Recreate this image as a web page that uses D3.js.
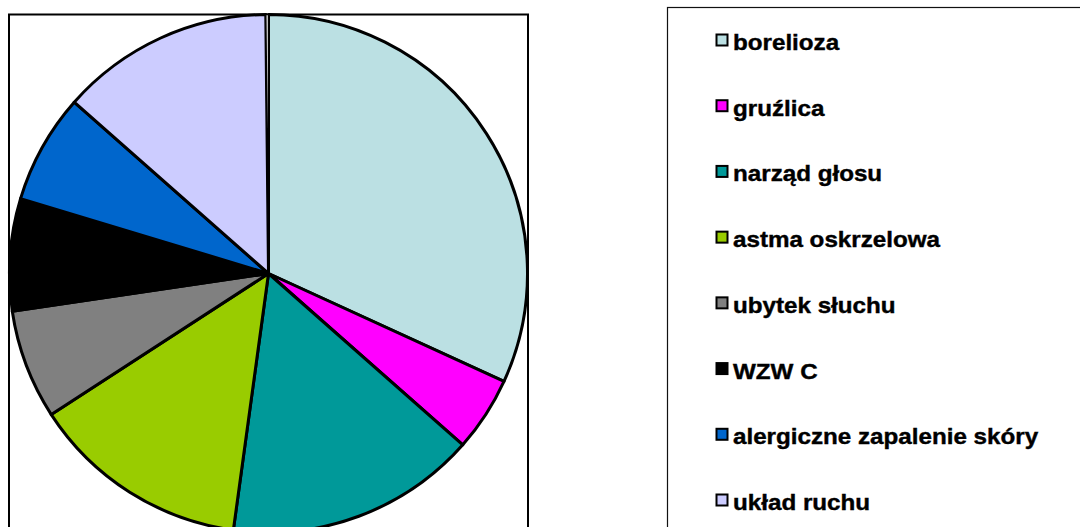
<!DOCTYPE html>
<html lang="pl">
<head>
    <meta charset="UTF-8">
    <title>Choroby zawodowe</title>
    <script src="https://d3js.org/d3.v7.min.js"></script>
    <style>
        body { margin: 0; background: #fff; }
        svg { display: block; }
    </style>
</head>
<body>
    <svg width="1080" height="527"></svg>

    <script>
    // kategorie i wartosci
    var categories = ["borelioza", "gruźlica", "narząd głosu", "astma oskrzelowa", "ubytek słuchu",
                      "WZW C", "alergiczne zapalenie skóry", "układ ruchu", "inne"]
    var values = [191, 28, 94, 82, 41, 42, 41, 80, 1]
    var colors = ["#BBE0E3", "#FF00FF", "#009999", "#99CC00", "#808080",
                  "#000000", "#0066CC", "#CCCCFF", "#FFFFFF"]

    var data = categories.map((c, i) => ({name: c, value: values[i], color: colors[i]}))

    var svg = d3.select("svg")

    // ramka obszaru wykresu
    svg.append("rect")
        .attr("x", 9).attr("y", 14.5)
        .attr("width", 519).attr("height", 560)
        .attr("fill", "none").attr("stroke", "#000").attr("stroke-width", 2)

    var pie = d3.pie().sort(null).value(d => d.value)
    var arc = d3.arc().innerRadius(0).outerRadius(259)

    var g = svg.append("g").attr("transform", "translate(268.5,273.5)")
    g.selectAll("path").data(pie(data))
        .enter().append("path")
        .attr("d", arc)
        .attr("fill", d => d.data.color)
        .attr("stroke", "#000")
        .attr("stroke-width", d => d.data.value < 5 ? 1.5 : 3)
        .attr("stroke-linejoin", "round")

    // legenda (pozycja "inne" wypada poza obrazkiem)
    svg.append("rect")
        .attr("x", 667.5).attr("y", 7.5)
        .attr("width", 430).attr("height", 600)
        .attr("fill", "none").attr("stroke", "#111").attr("stroke-width", 1.2)

    var legData = data.slice(0, 8)
    var ly = d3.scalePoint().domain(legData.map(d => d.name)).range([50, 510])

    var item = svg.selectAll(".leg").data(legData)
        .enter().append("g")
        .attr("class", "leg")
        .attr("transform", d => "translate(0," + ly(d.name) + ")")

    item.append("rect")
        .attr("x", 716.5).attr("y", -15.5)
        .attr("width", 11).attr("height", 11)
        .attr("fill", d => d.color)
        .attr("stroke", "#000").attr("stroke-width", 2)

    item.append("text")
        .attr("transform", "translate(733,0) scale(1.1,1)")
        .attr("font-family", "Liberation Sans, Arial, sans-serif")
        .attr("font-weight", "bold")
        .attr("font-size", 22)
        .attr("fill", "#000")
        .attr("stroke", "#000")
        .attr("stroke-width", 0.4)
        .text(d => d.name)
    </script>
</body>
</html>
